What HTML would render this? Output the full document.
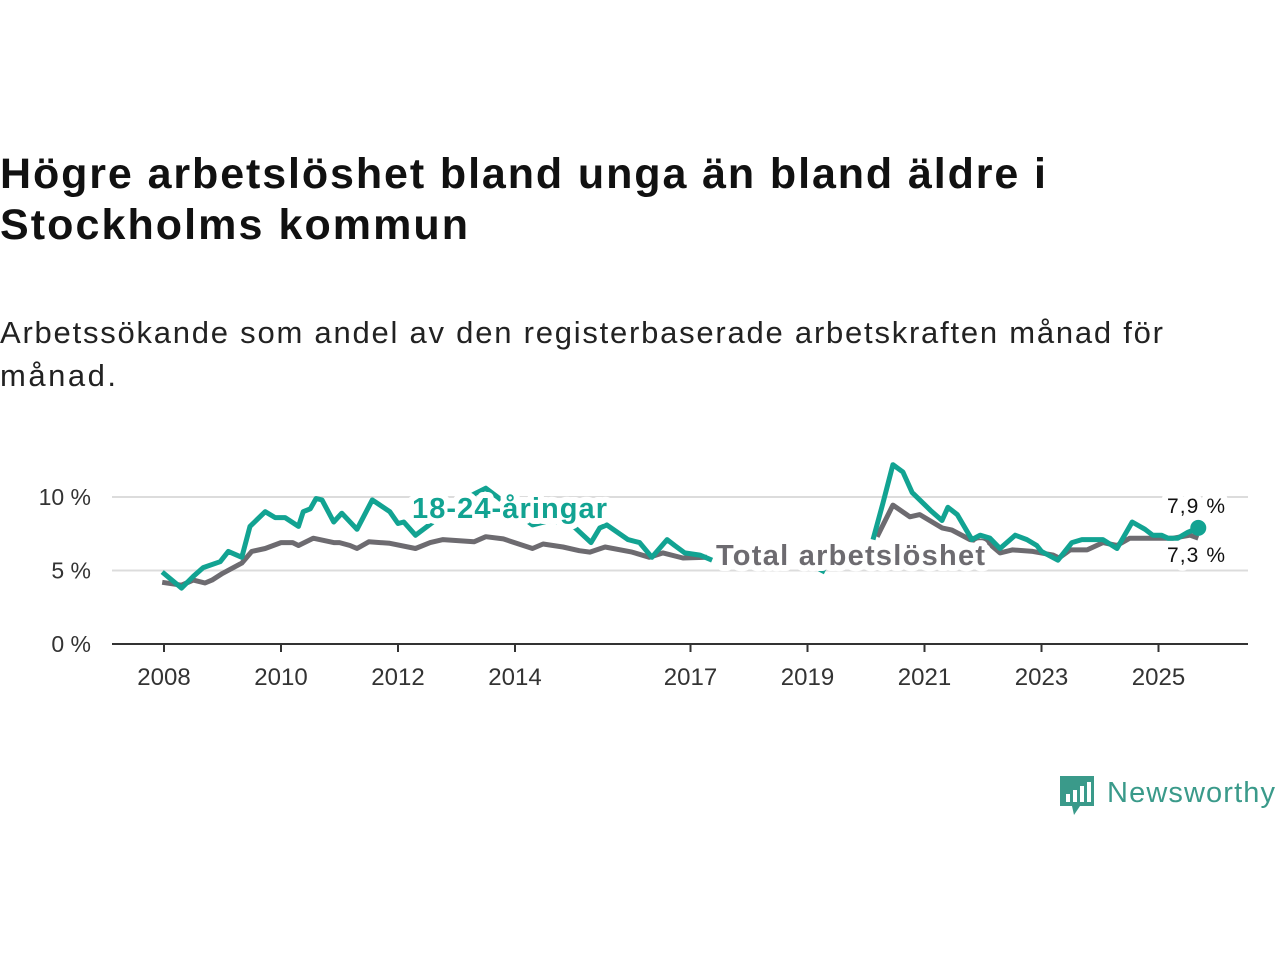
<!DOCTYPE html>
<html><head><meta charset="utf-8"><style>
body{margin:0;background:#fff;width:1280px;height:960px;overflow:hidden;font-family:"Liberation Sans",sans-serif}
svg text{font-family:"Liberation Sans",sans-serif}
</style></head><body>
<svg width="1280" height="960">
<text x="0" y="188" font-size="43" font-weight="bold" fill="#111" textLength="1046">Högre arbetslöshet bland unga än bland äldre i</text>
<text x="0" y="239" font-size="43" font-weight="bold" fill="#111" textLength="468">Stockholms kommun</text>
<text x="0" y="343" font-size="31" fill="#222" textLength="1163">Arbetssökande som andel av den registerbaserade arbetskraften månad för</text>
<text x="0" y="386" font-size="31" fill="#222" textLength="116">månad.</text>
<g id="grid"></g><g id="lines"></g><g id="halos"></g><g id="labels"></g>
<g>
<path d="M1060 776h34v30h-14l-6 9l-2-9h-12z" fill="#3a9a8a"/>
<rect x="1066" y="794" width="4" height="8" fill="#fff"/><rect x="1073" y="790" width="4" height="12" fill="#fff"/><rect x="1080" y="786" width="4" height="16" fill="#fff"/><rect x="1087" y="782" width="4" height="20" fill="#fff"/>
<text x="1107" y="802" font-size="29" fill="#3a9a8a" textLength="168">Newsworthy</text>
</g>
</svg>
<script>
const yTicks=[0,5,10];
const yTickLabels=["0 %","5 %","10 %"];
const xTicks=[2008,2010,2012,2014,2017,2019,2021,2023,2025];
const youthT=[2007.97,2008.3,2008.5,2008.67,2008.96,2009.1,2009.33,2009.47,2009.73,2009.9,2010.07,2010.3,2010.38,2010.5,2010.6,2010.7,2010.9,2011.04,2011.3,2011.56,2011.86,2012.0,2012.1,2012.3,2012.5,2012.9,2013.3,2013.5,2013.7,2014.0,2014.3,2014.6,2014.9,2015.03,2015.3,2015.45,2015.57,2015.93,2016.13,2016.34,2016.6,2016.73,2016.9,2017.16,2017.37,2018.5,2019.2,2019.3,2019.6,2020.12,2020.29,2020.46,2020.63,2020.79,2020.92,2021.1,2021.3,2021.4,2021.56,2021.81,2021.95,2022.12,2022.29,2022.55,2022.75,2022.92,2023.0,2023.28,2023.52,2023.69,2023.95,2024.05,2024.29,2024.55,2024.77,2024.9,2025.05,2025.16,2025.33,2025.5,2025.68];
const youthV=[4.9,3.8,4.6,5.2,5.6,6.3,5.9,8.0,9.0,8.6,8.6,8.0,9.0,9.2,9.9,9.8,8.3,8.9,7.8,9.8,9.0,8.2,8.3,7.4,8.0,9.2,10.2,10.6,10.0,9.0,8.1,8.4,8.2,7.9,6.9,7.9,8.1,7.1,6.9,5.9,7.1,6.7,6.2,6.05,5.7,null,5.1,4.9,null,7.1,9.6,12.2,11.7,10.3,9.8,9.1,8.4,9.3,8.8,7.1,7.4,7.2,6.5,7.4,7.1,6.7,6.3,5.7,6.9,7.1,7.1,7.1,6.5,8.3,7.8,7.4,7.4,7.2,7.2,7.6,7.9];
const totalT=[2007.97,2008.3,2008.5,2008.7,2008.82,2009.0,2009.33,2009.5,2009.73,2010.0,2010.2,2010.3,2010.55,2010.9,2011.0,2011.18,2011.3,2011.5,2011.86,2012.3,2012.55,2012.77,2013.3,2013.5,2013.8,2014.3,2014.48,2014.82,2015.1,2015.28,2015.54,2016.0,2016.3,2016.53,2016.87,2017.28,2018.5,2020.19,2020.46,2020.75,2020.92,2021.3,2021.47,2021.78,2022.07,2022.29,2022.5,2022.85,2023.2,2023.3,2023.49,2023.78,2024.05,2024.29,2024.51,2024.85,2025.25,2025.54,2025.68];
const totalV=[4.2,4.0,4.35,4.15,4.35,4.8,5.5,6.3,6.5,6.9,6.9,6.7,7.2,6.9,6.9,6.7,6.5,6.95,6.85,6.5,6.9,7.1,6.95,7.3,7.15,6.5,6.8,6.6,6.35,6.25,6.6,6.25,5.9,6.2,5.85,5.9,null,7.3,9.45,8.65,8.8,7.9,7.75,7.1,6.95,6.2,6.4,6.3,6.05,5.85,6.4,6.4,6.9,6.7,7.2,7.2,7.2,7.4,7.2];
const NS="http://www.w3.org/2000/svg";
const X=t=>164+(t-2008)*58.5, Y=v=>644-v*14.7;
function mk(tag,attrs,parent,txt){const e=document.createElementNS(NS,tag);for(const k in attrs)e.setAttribute(k,attrs[k]);if(txt!=null)e.textContent=txt;parent.appendChild(e);return e;}
const grid=document.getElementById('grid'),lines=document.getElementById('lines'),halos=document.getElementById('halos'),labels=document.getElementById('labels');
yTicks.forEach((v,i)=>{
 if(v>0){const g=mk('line',{x1:112,x2:1248,y1:Y(v),y2:Y(v),stroke:'#dcdcdc','stroke-width':2},grid);
 
 }
 const t=mk('text',{x:91,y:Y(v)+8,'font-size':23,'text-anchor':'end',fill:'#333'},grid,yTickLabels[i]);
 
 
});
const ax=mk('line',{x1:112,x2:1248,y1:644,y2:644,stroke:'#333','stroke-width':2},grid);


xTicks.forEach(yr=>{
 const tk=mk('line',{x1:X(yr),x2:X(yr),y1:644,y2:652,stroke:'#333','stroke-width':2},grid);
 
 
 const t=mk('text',{x:X(yr),y:685,'font-size':24,'text-anchor':'middle',fill:'#333'},grid,String(yr));
 
 
});
function pathD(T,V){let d='',pen=false;T.forEach((t,i)=>{if(V[i]==null){pen=false;return;}d+=(pen?'L':'M')+X(t).toFixed(1)+' '+Y(V[i]).toFixed(1);pen=true;});return d;}
const pt=mk('path',{d:pathD(totalT,totalV),fill:'none',stroke:'#6d6b70','stroke-width':5,'stroke-linejoin':'round'},lines);


const py=mk('path',{d:pathD(youthT,youthV),fill:'none',stroke:'#12a392','stroke-width':5,'stroke-linejoin':'round'},lines);


const li=youthT.length-1;
const dot=mk('circle',{cx:X(youthT[li]),cy:Y(youthV[li]),r:8,fill:'#12a392'},lines);


function lab(x,y,txt,fill,size,name,weight,len){
 const base={x:x,y:y,'font-size':size,'font-weight':weight||'normal'};
 if(len)base.textLength=len;
 const h=mk('text',Object.assign({fill:'#fff',stroke:'#fff','stroke-width':12,'stroke-linejoin':'round'},base),halos,txt);
 
 
 const t=mk('text',Object.assign({fill:fill},base),labels,txt);
 
 
}
lab(412,518,'18-24-åringar','#12a392',29,'youth-series-label','bold',195);
lab(716,565,'Total arbetslöshet','#6d6b70',29,'total-series-label','bold',269);
lab(1167,513,'7,9 %','#111',21,'youth-end-value','normal',58);
lab(1167,562,'7,3 %','#111',21,'total-end-value','normal',58);
</script>
</body></html>
